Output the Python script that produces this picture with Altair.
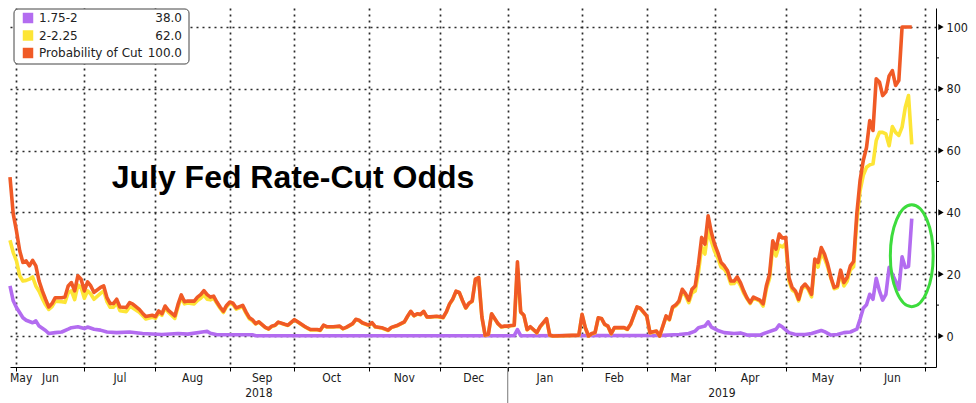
import altair as alt
import numpy as np
import pandas as pd

# ---------------- data ----------------
series_names = ["1.75-2", "2-2.25", "Probability of Cut"]
series_colors = ["#b36cf0", "#fde536", "#f05a26"]
title_text = "July Fed Rate-Cut Odds"

orange_dates = [
    "2018-05-30", "2018-05-31", "2018-06-01", "2018-06-04", "2018-06-05", "2018-06-06", "2018-06-07", "2018-06-08",
    "2018-06-11", "2018-06-12", "2018-06-13", "2018-06-14", "2018-06-15", "2018-06-18", "2018-06-19", "2018-06-21",
    "2018-06-22", "2018-06-25", "2018-06-26", "2018-06-27", "2018-06-28", "2018-06-29", "2018-07-02", "2018-07-03",
    "2018-07-04", "2018-07-05", "2018-07-09", "2018-07-10", "2018-07-11", "2018-07-12", "2018-07-13", "2018-07-16",
    "2018-07-17", "2018-07-19", "2018-07-20", "2018-07-23", "2018-07-25", "2018-07-26", "2018-07-27", "2018-07-31",
    "2018-08-01", "2018-08-02", "2018-08-03", "2018-08-06", "2018-08-07", "2018-08-09", "2018-08-10", "2018-08-13",
    "2018-08-14", "2018-08-15", "2018-08-17", "2018-08-20", "2018-08-21", "2018-08-22", "2018-08-23", "2018-08-24",
    "2018-08-27", "2018-08-28", "2018-08-29", "2018-08-30", "2018-08-31", "2018-09-03", "2018-09-04", "2018-09-05",
    "2018-09-07", "2018-09-10", "2018-09-11", "2018-09-12", "2018-09-13", "2018-09-14", "2018-09-17", "2018-09-18",
    "2018-09-19", "2018-09-20", "2018-09-21", "2018-09-24", "2018-09-26", "2018-09-27", "2018-09-28", "2018-10-01",
    "2018-10-02", "2018-10-04", "2018-10-05", "2018-10-08", "2018-10-10", "2018-10-11", "2018-10-12", "2018-10-15",
    "2018-10-16", "2018-10-17", "2018-10-19", "2018-10-22", "2018-10-23", "2018-10-25", "2018-10-26", "2018-10-29",
    "2018-10-30", "2018-11-01", "2018-11-02", "2018-11-05", "2018-11-07", "2018-11-09", "2018-11-12", "2018-11-14",
    "2018-11-16", "2018-11-19", "2018-11-20", "2018-11-21", "2018-11-22", "2018-11-23", "2018-11-26", "2018-11-27",
    "2018-11-28", "2018-11-30", "2018-12-03", "2018-12-04", "2018-12-05", "2018-12-06", "2018-12-07", "2018-12-10",
    "2018-12-11", "2018-12-12", "2018-12-13", "2018-12-14", "2018-12-17", "2018-12-18", "2018-12-19", "2018-12-20",
    "2018-12-21", "2018-12-24", "2018-12-25", "2018-12-27", "2018-12-28", "2018-12-31", "2019-01-01", "2019-01-02",
    "2019-01-03", "2019-01-04", "2019-01-07", "2019-01-08", "2019-01-09", "2019-01-10", "2019-01-14", "2019-01-15",
    "2019-01-17", "2019-01-18", "2019-01-21", "2019-01-31", "2019-02-01", "2019-02-04", "2019-02-05", "2019-02-06",
    "2019-02-07", "2019-02-08", "2019-02-11", "2019-02-12", "2019-02-13", "2019-02-14", "2019-02-15", "2019-02-19",
    "2019-02-20", "2019-02-21", "2019-02-22", "2019-02-26", "2019-02-27", "2019-03-01", "2019-03-04", "2019-03-05",
    "2019-03-06", "2019-03-07", "2019-03-11", "2019-03-12", "2019-03-13", "2019-03-14", "2019-03-15", "2019-03-18",
    "2019-03-19", "2019-03-20", "2019-03-21", "2019-03-22", "2019-03-25", "2019-03-26", "2019-03-27", "2019-03-28",
    "2019-03-29", "2019-04-01", "2019-04-02", "2019-04-03", "2019-04-04", "2019-04-05", "2019-04-08", "2019-04-09",
    "2019-04-10", "2019-04-11", "2019-04-12", "2019-04-15", "2019-04-16", "2019-04-17", "2019-04-19", "2019-04-22",
    "2019-04-23", "2019-04-24", "2019-04-25", "2019-04-26", "2019-04-29", "2019-04-30", "2019-05-01", "2019-05-02",
    "2019-05-03", "2019-05-06", "2019-05-07", "2019-05-08", "2019-05-09", "2019-05-10", "2019-05-13", "2019-05-14",
    "2019-05-15", "2019-05-16", "2019-05-17", "2019-05-20", "2019-05-21", "2019-05-22", "2019-05-23", "2019-05-24",
    "2019-05-27", "2019-05-28", "2019-05-29", "2019-05-30", "2019-05-31", "2019-06-03", "2019-06-04", "2019-06-05",
    "2019-06-06", "2019-06-07", "2019-06-10", "2019-06-11", "2019-06-12", "2019-06-13", "2019-06-14", "2019-06-17",
    "2019-06-18", "2019-06-19", "2019-06-20", "2019-06-21", "2019-06-24", "2019-06-25",
]

# Probability of Cut
orange_vals = [
    51.4, 39.5, 34.0, 27.6, 23.8, 24.3, 22.7, 24.5,
    22.7, 17.8, 14.6, 11.9, 9.4, 10.5, 12.4, 12.4,
    12.6, 16.2, 17.3, 14.6, 19.5, 18.4, 14.6, 17.5,
    16.2, 14.1, 15.7, 16.2, 12.4, 10.5, 10.5, 11.9,
    9.4, 9.2, 10.8, 10.3, 8.6, 7.4, 6.3, 6.7,
    6.3, 8.1, 7.2, 9.7, 8.3, 6.5, 10.3, 13.3,
    11.1, 11.3, 11.3, 12.6, 13.4, 14.7, 13.4, 12.6,
    12.9, 11.0, 9.4, 8.0, 9.9, 11.0, 10.6, 9.1,
    9.9, 7.8, 6.0, 5.3, 4.0, 4.6, 3.7, 2.8,
    2.3, 3.2, 3.5, 4.5, 3.8, 3.5, 4.4, 5.3,
    4.6, 3.2, 2.6, 2.1, 2.1, 1.9, 3.5, 3.0,
    3.0, 3.0, 3.2, 2.4, 2.8, 4.0, 5.4, 5.1,
    4.3, 3.5, 4.3, 3.0, 2.7, 1.9, 2.8, 3.5,
    4.6, 6.4, 8.0, 6.6, 7.2, 7.0, 8.0, 6.2,
    6.2, 6.4, 6.2, 6.0, 7.8, 10.4, 12.0, 14.5,
    14.1, 11.5, 9.1, 10.6, 11.3, 18.4, 18.9, 6.2,
    0.3, 0.6, 7.2, 4.0, 3.0, 3.2, 3.2, 3.4,
    3.5, 24.0, 7.8, 6.7, 2.1, 3.0, 1.1, 3.0,
    5.6, 0.3, 0.0, 0.3, 7.0, 2.7, 0.0, 0.8,
    1.1, 5.9, 5.7, 3.8, 3.2, 0.8, 2.7, 2.7,
    2.7, 2.2, 3.8, 9.4, 9.0, 6.5, 1.1, 1.4,
    1.6, 0.0, 6.5, 5.4, 9.4, 10.1, 11.4, 15.1,
    13.7, 11.6, 15.1, 16.2, 23.2, 31.9, 29.7, 38.9,
    33.5, 29.7, 27.0, 23.8, 22.7, 21.1, 17.8, 17.8,
    19.1, 17.3, 14.6, 12.4, 10.8, 12.6, 11.6, 10.4,
    16.2, 20.0, 30.8, 28.1, 33.0, 31.7, 31.9, 18.9,
    15.7, 14.6, 11.9, 15.7, 16.8, 15.5, 13.5, 24.9,
    23.8, 28.6, 26.5, 23.2, 18.9, 15.7, 16.2, 21.3,
    17.3, 18.9, 22.7, 24.1, 39.5, 50.3, 56.8, 61.0,
    69.7, 66.5, 83.2, 82.2, 77.8, 79.0, 84.2, 85.9,
    81.1, 82.7, 100.0, 100.0, 100.0, 100.0,
]

# 2-2.25 (same dates as orange_dates)
yellow_vals = [
    31.0, 27.0, 24.3, 19.5, 17.8, 18.0, 18.4, 19.1,
    16.2, 14.5, 12.1, 10.1, 8.6, 9.5, 11.3, 11.1,
    10.9, 14.0, 14.6, 11.8, 16.5, 15.7, 12.2, 14.6,
    13.6, 11.9, 13.8, 14.6, 11.1, 9.3, 9.3, 10.8,
    8.2, 7.9, 9.5, 9.1, 7.7, 6.6, 5.5, 6.1,
    5.7, 7.5, 6.7, 9.1, 7.7, 5.7, 9.5, 12.5,
    10.4, 10.7, 10.4, 11.5, 12.2, 13.3, 11.9, 11.7,
    12.2, 10.6, 9.0, 7.6, 9.5, 10.6, 10.2, 8.7,
    9.5, 7.4, 5.6, 4.9, 3.9, 4.5, 3.6, 2.7,
    2.2, 3.1, 3.4, 4.4, 3.7, 3.4, 4.3, 5.2,
    4.5, 3.1, 2.5, 2.0, 2.0, 1.8, 3.4, 2.9,
    2.9, 2.9, 3.1, 2.3, 2.7, 3.9, 5.3, 5.0,
    4.2, 3.4, 4.2, 2.9, 2.6, 1.8, 2.7, 3.4,
    4.5, 6.3, 7.9, 6.5, 7.1, 6.9, 7.9, 6.1,
    6.1, 6.3, 6.1, 5.9, 7.7, 10.3, 11.9, 14.4,
    14.0, 11.4, 9.0, 10.5, 11.2, 18.3, 18.8, 6.1,
    0.2, 0.5, 7.1, 3.9, 2.9, 3.1, 3.1, 3.3,
    3.4, 21.9, 7.7, 6.6, 2.0, 2.9, 1.0, 2.9,
    5.5, 0.2, 0.0, 0.2, 6.9, 2.6, 0.0, 0.7,
    1.0, 5.8, 5.6, 3.7, 3.1, 0.7, 2.6, 2.6,
    2.6, 2.1, 3.7, 9.3, 8.9, 6.4, 1.0, 1.3,
    1.5, 0.0, 6.3, 5.2, 9.1, 9.8, 10.9, 14.5,
    13.0, 10.8, 13.9, 14.6, 20.5, 28.9, 26.5, 34.3,
    30.6, 27.4, 25.2, 22.3, 21.6, 20.1, 16.9, 17.0,
    18.2, 16.3, 13.9, 12.1, 10.5, 12.3, 11.3, 9.7,
    15.1, 18.6, 29.0, 25.9, 29.4, 28.8, 29.9, 17.8,
    14.9, 14.1, 11.4, 15.2, 16.3, 15.0, 12.7, 23.8,
    22.3, 26.8, 25.1, 22.3, 18.6, 15.3, 15.7, 20.5,
    16.2, 17.7, 21.4, 22.4, 37.3, 47.0, 52.0, 54.6,
    55.4, 55.7, 63.2, 65.9, 65.9, 65.4, 61.6, 67.8,
    65.9, 64.9, 67.6, 74.0, 77.8, 62.0,
]

# 1.75-2
purple_dates = [
    "2018-05-30", "2018-05-31", "2018-06-01", "2018-06-05", "2018-06-06", "2018-06-08", "2018-06-11", "2018-06-12",
    "2018-06-14", "2018-06-15", "2018-06-19", "2018-06-21", "2018-06-25", "2018-06-26", "2018-06-28", "2018-07-02",
    "2018-07-03", "2018-07-05", "2018-07-09", "2018-07-11", "2018-07-16", "2018-07-20", "2018-07-26", "2018-08-03",
    "2018-08-10", "2018-08-15", "2018-08-22", "2018-08-23", "2018-08-24", "2018-08-28", "2018-09-12", "2018-09-13",
    "2019-01-03", "2019-01-04", "2019-01-07", "2019-03-08", "2019-03-15", "2019-03-20", "2019-03-22", "2019-03-25",
    "2019-03-27", "2019-03-28", "2019-03-29", "2019-04-02", "2019-04-04", "2019-04-09", "2019-04-11", "2019-04-15",
    "2019-04-19", "2019-04-23", "2019-04-26", "2019-04-29", "2019-04-30", "2019-05-02", "2019-05-06", "2019-05-09",
    "2019-05-13", "2019-05-16", "2019-05-17", "2019-05-21", "2019-05-23", "2019-05-27", "2019-05-29", "2019-05-31",
    "2019-06-03", "2019-06-04", "2019-06-05", "2019-06-06", "2019-06-07", "2019-06-10", "2019-06-11", "2019-06-12",
    "2019-06-13", "2019-06-14", "2019-06-18", "2019-06-19", "2019-06-20", "2019-06-21", "2019-06-24", "2019-06-25",
]
purple_vals = [
    16.2, 11.4, 9.2, 5.9, 5.1, 4.3, 4.9, 3.2,
    1.8, 0.8, 1.1, 1.3, 2.2, 2.7, 3.0, 2.4,
    2.9, 2.2, 1.9, 1.3, 1.1, 1.3, 0.8, 0.5,
    0.8, 0.6, 1.4, 1.5, 0.9, 0.4, 0.4, 0.1,
    0.1, 2.1, 0.1, 0.2, 0.5, 0.8, 1.6, 2.7,
    3.2, 4.6, 2.9, 1.8, 1.1, 0.8, 1.0, 0.3,
    0.3, 1.1, 2.2, 3.6, 2.9, 1.1, 0.5, 0.5,
    0.8, 1.8, 1.4, 0.3, 0.5, 1.1, 1.3, 2.2,
    5.4, 9.0, 10.1, 13.5, 11.9, 18.7, 14.6, 11.6,
    13.5, 22.2, 17.8, 15.1, 25.6, 22.2, 22.5, 38.0,
]

month_starts = ["2018-06-01", "2018-07-01", "2018-08-01", "2018-09-01", "2018-10-01", "2018-11-01",
                "2018-12-01", "2019-01-01", "2019-02-01", "2019-03-01", "2019-04-01", "2019-05-01",
                "2019-06-01", "2019-07-01"]
month_labels = ["May", "Jun", "Jul", "Aug", "Sep", "Oct", "Nov", "Dec",
                "Jan", "Feb", "Mar", "Apr", "May", "Jun"]
year_labels = ["2018", "2019"]
year_break = "2019-01-01"
y_major = [0, 20, 40, 60, 80, 100]
y_minor = [10, 30, 50, 70, 90]
ellipse_at = ("2019-06-25", 26.0)

# ---------------- helpers ----------------
ORIGIN = "2018-06-01"


def bday(d):
    # Bloomberg-style business-day axis (weekdays evenly spaced)
    return np.busday_count(ORIGIN, np.array(d, dtype="datetime64[D]"))


W, H = 926, 359
XDOM = [-2.0, 284.5]
YDOM = [-10.03, 106.15]
xs = alt.Scale(domain=XDOM, nice=False, zero=False)
ys = alt.Scale(domain=YDOM, nice=False, zero=False)

FONT_AX = "DejaVu Sans Condensed, DejaVu Sans, sans-serif"
FONT_LEG = "DejaVu Sans, Verdana, sans-serif"
FONT_TITLE = "Liberation Sans, Arial, Helvetica, sans-serif"
GRID_DASH = [2, 4]

df_p = pd.DataFrame({"bd": bday(purple_dates), "v": purple_vals})
df_y = pd.DataFrame({"bd": bday(orange_dates), "v": yellow_vals})
df_o = pd.DataFrame({"bd": bday(orange_dates), "v": orange_vals})

ms_bd = [int(b) for b in bday(month_starts)]
jan_bd = int(bday([year_break])[0])

xaxis = alt.Axis(values=ms_bd, labels=False, ticks=True, tickSize=4, tickColor="#000",
                 domain=True, domainColor="#000", domainWidth=1,
                 grid=True, gridColor="#2a2a2a", gridDash=GRID_DASH, gridWidth=1.7, title=None)
yaxis = alt.Axis(orient="right", values=y_major, ticks=False, tickSize=0, labelPadding=10,
                 labelFont=FONT_AX, labelFontSize=12.5, labelColor="#1a1a1a",
                 domain=True, domainColor="#000", domainWidth=1,
                 grid=True, gridColor="#2a2a2a", gridDash=GRID_DASH, gridWidth=1.7, title=None)


def X(field):
    return alt.X(field, scale=xs, axis=xaxis)


def Y(field):
    return alt.Y(field, scale=ys, axis=yaxis)


def line(df, color):
    return alt.Chart(df).mark_line(color=color, strokeWidth=3.6, strokeJoin="round").encode(
        x=X("bd:Q"), y=Y("v:Q"))


layers = [
    line(df_p, series_colors[0]),
    line(df_y, series_colors[1]),
    line(df_o, series_colors[2]),
]

one = pd.DataFrame({"a": [0]})

# right-axis decorations
layers.append(alt.Chart(pd.DataFrame({"v": y_minor})).mark_rule(color="#000", strokeWidth=1).encode(
    x=alt.value(W), x2=alt.value(W + 3), y=Y("v:Q")))
layers.append(alt.Chart(pd.DataFrame({"v": y_major})).mark_point(
    shape="triangle-right", size=38, filled=True, color="#000", opacity=1).encode(
    x=alt.value(W + 5), y=Y("v:Q")))

# month labels
mdf = pd.DataFrame({
    "bd": [(ms_bd[k - 1] + ms_bd[k]) / 2 for k in range(1, len(month_labels))],
    "label": month_labels[1:],
})
layers.append(alt.Chart(mdf).mark_text(font=FONT_AX, fontSize=12, color="#1a1a1a",
                                       align="center", baseline="middle").encode(
    x=X("bd:Q"), y=alt.value(H + 11), text="label:N"))
layers.append(alt.Chart(pd.DataFrame({"label": month_labels[:1]})).mark_text(
    font=FONT_AX, fontSize=12, color="#1a1a1a", align="left", baseline="middle").encode(
    x=alt.value(0), y=alt.value(H + 11), text="label:N"))

# year labels and divider
ydf = pd.DataFrame({"bd": [(XDOM[0] + jan_bd) / 2, (jan_bd + XDOM[1]) / 2], "label": year_labels})
layers.append(alt.Chart(ydf).mark_text(font=FONT_AX, fontSize=12, color="#1a1a1a",
                                       align="center", baseline="middle").encode(
    x=X("bd:Q"), y=alt.value(H + 26), text="label:N"))
layers.append(alt.Chart(pd.DataFrame({"bd": [jan_bd]})).mark_rule(color="#777", strokeWidth=1).encode(
    x=X("bd:Q"), y=alt.value(H), y2=alt.value(H + 36)))

# title
layers.append(alt.Chart(pd.DataFrame({"t": [title_text]})).mark_text(
    font=FONT_TITLE, fontSize=32, fontWeight="bold", color="#000",
    align="center", baseline="alphabetic").encode(
    x=alt.value(283), y=alt.value(179.5), text="t:N"))

# green ellipse annotation
ELLIPSE = ("M0,-1C0.232,-1,0.42,-0.552,0.42,0C0.42,0.552,0.232,1,0,1"
           "C-0.232,1,-0.42,0.552,-0.42,0C-0.42,-0.552,-0.232,-1,0,-1Z")
edf = pd.DataFrame({"bd": bday([ellipse_at[0]]), "v": [ellipse_at[1]]})
layers.append(alt.Chart(edf).mark_point(shape=ELLIPSE, size=10404, filled=False,
                                        color="#3ddc3d", strokeWidth=3, opacity=1).encode(
    x=X("bd:Q"), y=Y("v:Q")))

# legend box
layers.append(alt.Chart(one).mark_rect(fill="white", stroke="#444", strokeWidth=1, cornerRadius=4).encode(
    x=alt.value(4), x2=alt.value(179), y=alt.value(1), y2=alt.value(56)))
last_vals = [purple_vals[-1], yellow_vals[-1], orange_vals[-1]]
for i, (name, val, col) in enumerate(zip(series_names, last_vals, series_colors)):
    yy = 10 + 17.5 * i
    d = pd.DataFrame({"name": [name], "val": [f"{val:.1f}"]})
    layers.append(alt.Chart(d).mark_square(size=110, color=col, opacity=1).encode(
        x=alt.value(18), y=alt.value(yy)))
    layers.append(alt.Chart(d).mark_text(font=FONT_LEG, fontSize=12, color="#222",
                                         align="left", baseline="middle").encode(
        x=alt.value(29), y=alt.value(yy), text="name:N"))
    layers.append(alt.Chart(d).mark_text(font=FONT_LEG, fontSize=12, color="#222",
                                         align="right", baseline="middle").encode(
        x=alt.value(172), y=alt.value(yy), text="val:N"))

chart = alt.layer(*layers).properties(
    width=W, height=H, padding=0, background="white"
).configure_view(stroke=None)

chart.save("out.html", embed_options={"renderer": "svg", "actions": False})
